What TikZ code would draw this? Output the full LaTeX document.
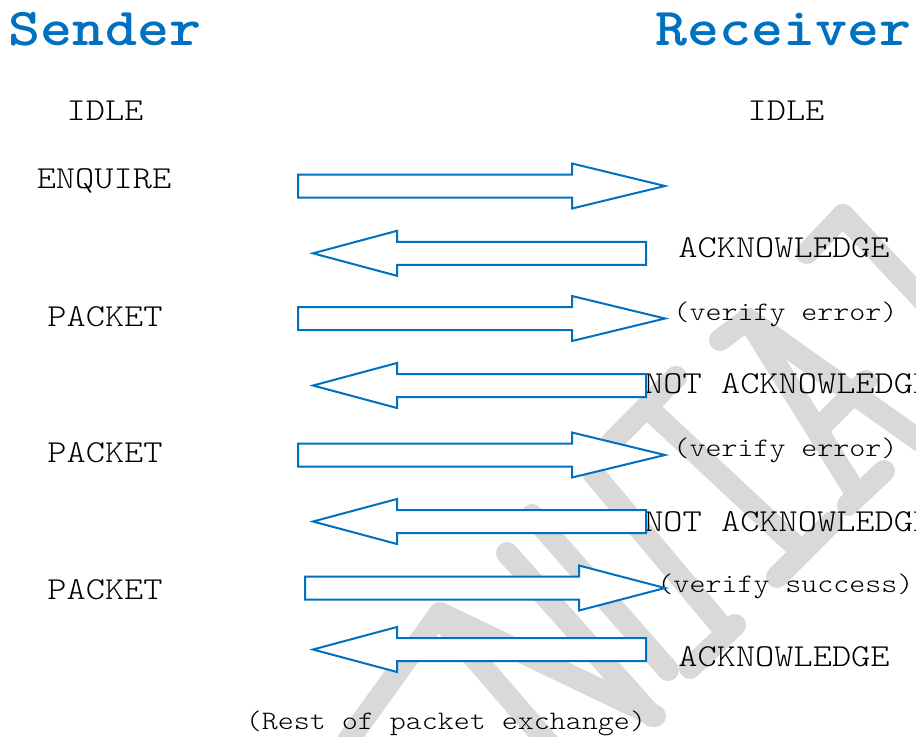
\documentclass[tikz,border=0pt]{standalone}
\usepackage{fontspec}
\setmonofont{Latin Modern Mono Light}[FakeStretch=1.143]
\begin{document}
\definecolor{flowblue}{HTML}{0070C0}
\definecolor{markgray}{HTML}{D9D9D9}
\begin{tikzpicture}[x=0.75pt,y=-0.75pt,
  title/.style={font=\ttfamily\bfseries\fontsize{40}{44}\selectfont, text=flowblue, inner sep=0pt, anchor=base},
  state/.style={font=\ttfamily\fontsize{24}{28}\selectfont, inner sep=0pt, anchor=base},
  note/.style={font=\ttfamily\fontsize{20}{24}\selectfont, inner sep=0pt, anchor=base},
  arrowline/.style={draw=flowblue, line width=1.5pt, fill=white, line join=miter},
  wmstroke/.style={draw=markgray, line width=16.5pt, line cap=round},
  pics/blockarrow/.style args={#1/#2/#3}{code={
    \path[arrowline] (#1,-11.5) -- (#2,-11.5) -- (#2,-22.5) -- (#3,0)
      -- (#2,22.5) -- (#2,11.5) -- (#1,11.5) -- cycle;}}
]
\useasboundingbox (0,0) rectangle (916,736);
\fill[white] (0,0) rectangle (916,736);

% background watermark strokes
\begin{scope}
\clip (0,0) rectangle (916,736);
\draw[wmstroke] (440,613) -- (345,745);
\draw[wmstroke] (440,618) -- (550,745);
\draw[wmstroke] (440,613) -- (655,716);
\draw[wmstroke] (507,553) -- (652,716);
\draw[wmstroke] (532,515) -- (668,670);
\draw[wmstroke] (593,473) -- (722,627);
\draw[wmstroke] (690,668) -- (735,625);
\draw[wmstroke] (612,442) -- (676,377);
\draw[wmstroke] (650,410) -- (800,550);
\draw[wmstroke] (777,577) -- (832,522);
\draw[wmstroke] (720,340) -- (748,319);
\draw[wmstroke] (748,319) -- (856,493);
\draw[wmstroke] (748,319) -- (940,455);
\draw[wmstroke] (817,430) -- (866,381);
\draw[wmstroke] (848,505) -- (884,471);
\draw[wmstroke] (807,253) -- (843,215);
\draw[wmstroke] (843,215) -- (940,318);
\end{scope}

% column headings
\node[title] (sender) at (105,45) {Sender};
\node[title] (receiver) at (783.5,45) {Receiver};

% sender states
\node[state] (s-idle) at (105,120.5) {IDLE};
\node[state] (s-enq) at (104,188) {ENQUIRE};
\node[state] (s-pk1) at (105,326) {PACKET};
\node[state] (s-pk2) at (105,462) {PACKET};
\node[state] (s-pk3) at (105,599) {PACKET};

% receiver states
\node[state] (r-idle) at (786,120.5) {IDLE};
\node[state] (r-ack1) at (784,257) {ACKNOWLEDGE};
\node[note] (r-ver1) at (785.5,320) {(verify error)};
\node[state, anchor=base west] (r-nak1) at (644,393) {NOT ACKNOWLEDGE};
\node[note] (r-ver2) at (785.5,456) {(verify error)};
\node[state, anchor=base west] (r-nak2) at (644,531) {NOT ACKNOWLEDGE};
\node[note] (r-ver3) at (785.5,592) {(verify success)};
\node[state] (r-ack2) at (784,666) {ACKNOWLEDGE};

\node[note] (rest) at (446,729) {(Rest of packet exchange)};

% message arrows
\pic (m1) at (0,186)   {blockarrow={298/572/665}};
\pic (m2) at (0,253.3) {blockarrow={646/397/313}};
\pic (m3) at (0,318.5) {blockarrow={298/572/665}};
\pic (m4) at (0,385.5) {blockarrow={646/397/313}};
\pic (m5) at (0,455)   {blockarrow={298/572/665}};
\pic (m6) at (0,521.5) {blockarrow={646/397/313}};
\pic (m7) at (0,588)   {blockarrow={305/579/665}};
\pic (m8) at (0,649.5) {blockarrow={646/397/313}};
\end{tikzpicture}
\end{document}
